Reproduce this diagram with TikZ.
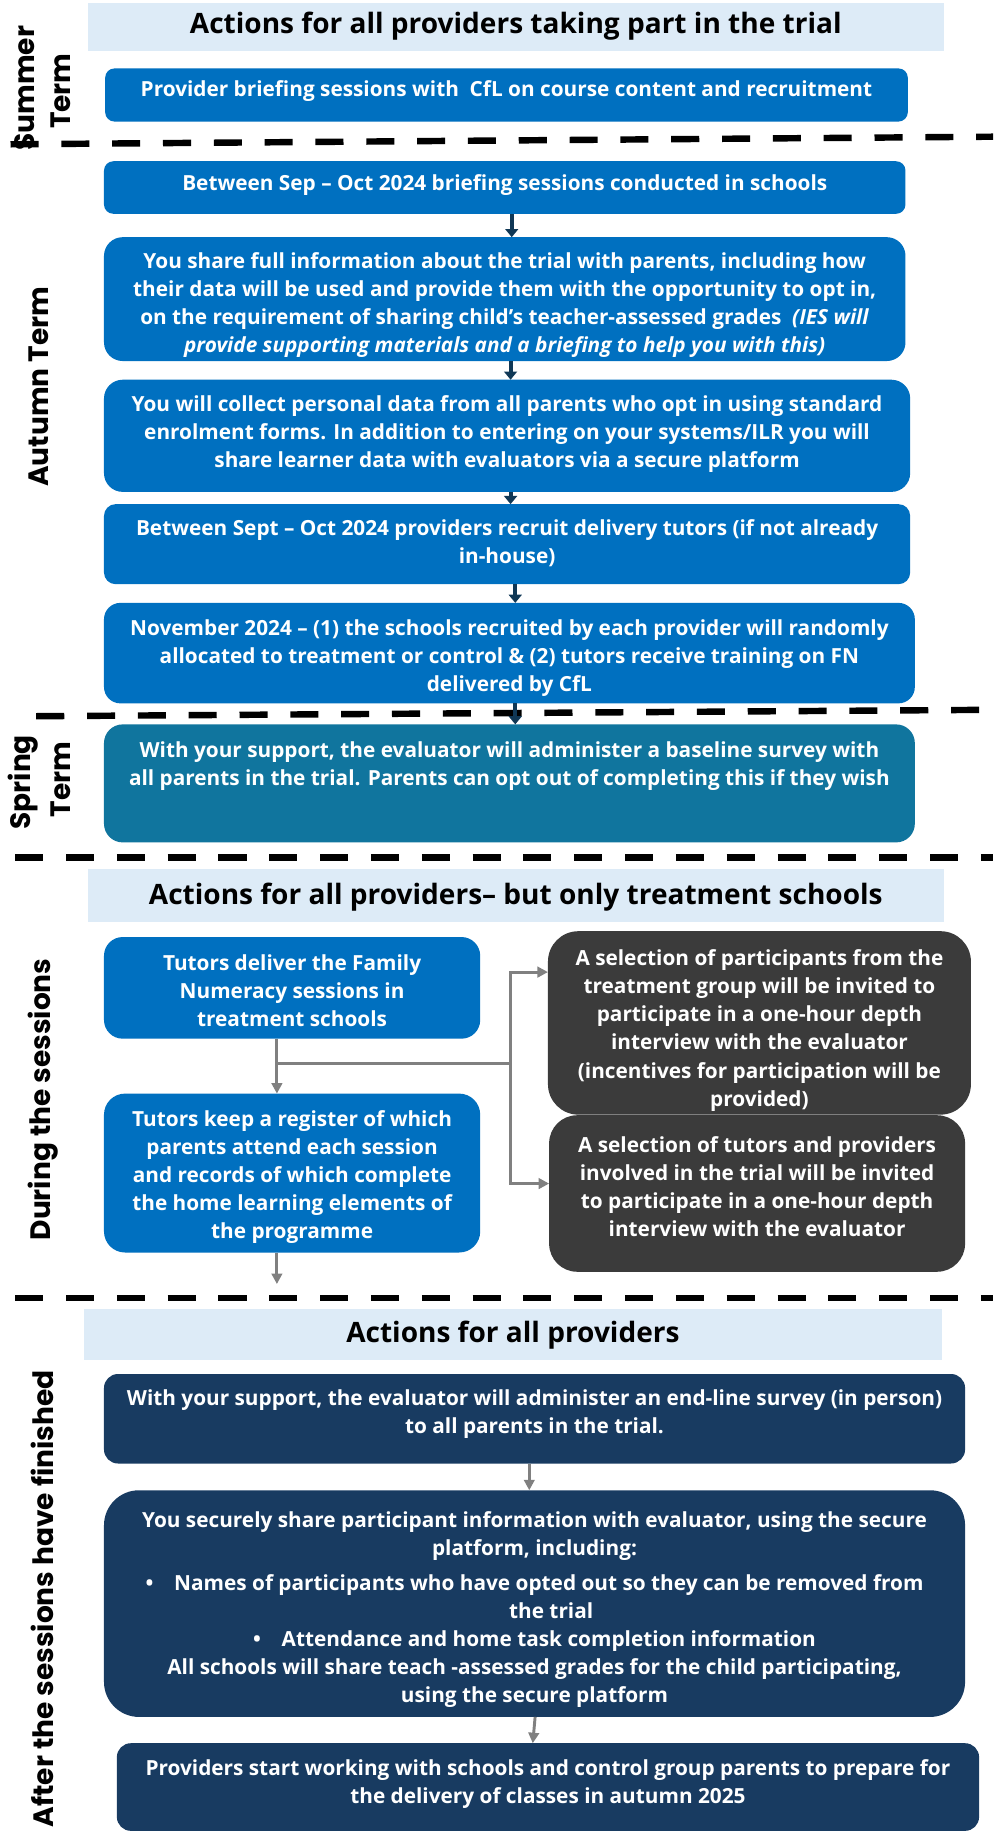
\documentclass[tikz,border=0pt]{standalone}
\usepackage{fontspec}
\setmainfont{Open Sans}
\newfontfamily\lblfont{Poppins}
\usetikzlibrary{arrows.meta,calc}
\definecolor{boxblue}{RGB}{0,112,192}
\definecolor{springteal}{RGB}{16,117,158}
\definecolor{boxgray}{RGB}{59,59,59}
\definecolor{boxnavy}{RGB}{24,59,97}
\definecolor{headblue}{RGB}{221,235,247}
\definecolor{conngray}{RGB}{128,128,128}
\definecolor{arrdark}{RGB}{16,56,86}
\tikzset{
  bx/.style={rectangle, inner sep=0pt, outer sep=0pt, draw=none},
  hd/.style={bx, fill=headblue},
  txt/.style={text=white, font=\fontsize{17.8}{24}\selectfont\bfseries, align=center, inner sep=0pt},
  hdtxt/.style={text=black, font=\fontsize{24}{28}\selectfont\bfseries, align=center, inner sep=0pt},
  lbl/.style={text=black, font=\lblfont\fontsize{24}{28}\selectfont\bfseries, inner sep=0pt, rotate=90},
  divider/.style={line width=5.5pt, dash pattern=on 24pt off 19.5pt, black},
  darr/.style={line width=3.5pt, arrdark, -{Triangle[length=7pt,width=11pt]}},
  garr/.style={line width=2.5pt, conngray, -{Triangle[length=9pt,width=9pt]}},
  gline/.style={line width=2.5pt, conngray},
}
\begin{document}
\begin{tikzpicture}[x=1pt,y=-1pt]
\useasboundingbox (0,0) rectangle (850,1568);
\fill[white] (0,0) rectangle (850,1568);

% ---- section 1 header
\node[hd, minimum width=733pt, minimum height=41pt] (h1) at (441.5,22.9) {};
\node[hdtxt] (h1t) at (441.5,22.8) {Actions for all providers taking part in the trial};

% ---- boxes
\node[bx, fill=boxblue, rounded corners=8pt, minimum width=687pt, minimum height=45.5pt] (summer) at (433.5,81.3) {};
\node[txt] (summert) at (433.5,78) {Provider briefing sessions with\ \ CfL on course content and recruitment};

\node[bx, fill=boxblue, rounded corners=8pt, minimum width=686pt, minimum height=45pt] (A) at (432,160.5) {};
\node[txt] (At) at (432,158.8) {Between Sep -- Oct 2024 briefing sessions conducted in schools};

\node[bx, fill=boxblue, rounded corners=16pt, minimum width=686pt, minimum height=106pt] (B) at (432,256) {};
\node[txt] (Bt) at (432,261) {You share full information about the trial with parents, including how\\their data will be used and provide them with the opportunity to opt in,\\on the requirement of sharing child’s teacher-assessed grades \ \textit{(IES will}\\\textit{provide supporting materials and a briefing to help you with this)}};

\node[bx, fill=boxblue, rounded corners=16pt, minimum width=690pt, minimum height=96pt] (C) at (434,373) {};
\node[txt] (Ct) at (434,371.7) {You will collect personal data from all parents who opt in using standard\\enrolment forms. In addition to entering on your systems/ILR you will\\share learner data with evaluators via a secure platform};

\node[bx, fill=boxblue, rounded corners=10pt, minimum width=690pt, minimum height=68.5pt] (D) at (434,465.75) {};
\node[txt] (Dt) at (434,465) {Between Sept -- Oct 2024 providers recruit delivery tutors (if not already\\in-house)};

\node[bx, fill=boxblue, rounded corners=14pt, minimum width=694pt, minimum height=86pt] (E) at (436,559) {};
\node[txt] (Et) at (436,563) {November 2024 -- (1) the schools recruited by each provider will randomly\\allocated to treatment or control \& (2) tutors receive training on FN\\delivered by CfL};

\node[bx, fill=springteal, rounded corners=16pt, minimum width=694pt, minimum height=101pt] (S) at (436,670.5) {};
\node[txt] (St) at (436,655.3) {With your support, the evaluator will administer a baseline survey with\\all parents in the trial. Parents can opt out of completing this if they wish};

% ---- section 2
\node[hd, minimum width=733pt, minimum height=45pt] (h2) at (441.5,766.5) {};
\node[hdtxt] (h2t) at (441.5,767.6) {Actions for all providers-- but only treatment schools};

\node[bx, fill=boxblue, rounded corners=16pt, minimum width=322pt, minimum height=87pt] (F) at (250,845.5) {};
\node[txt] (Ft) at (250,848) {Tutors deliver the Family\\Numeracy sessions in\\treatment schools};

\node[bx, fill=boxblue, rounded corners=18pt, minimum width=322pt, minimum height=136pt] (G) at (250,1004) {};
\node[txt] (Gt) at (250,1007.6) {Tutors keep a register of which\\parents attend each session\\and records of which complete\\the home learning elements of\\the programme};

\node[bx, fill=boxgray, rounded corners=26pt, minimum width=362pt, minimum height=157pt] (H) at (650,875.5) {};
\node[txt] (Ht) at (650,882) {A selection of participants from the\\treatment group will be invited to\\participate in a one-hour depth\\interview with the evaluator\\(incentives for participation will be\\provided)};

\node[bx, fill=boxgray, rounded corners=24pt, minimum width=356pt, minimum height=134pt] (I) at (648,1021.5) {};
\node[txt] (It) at (648,1015.5) {A selection of tutors and providers\\involved in the trial will be invited\\to participate in a one-hour depth\\interview with the evaluator};

% ---- section 3
\node[hd, minimum width=734pt, minimum height=44pt] (h3) at (439,1142) {};
\node[hdtxt] (h3t) at (439,1142.8) {Actions for all providers};

\node[bx, fill=boxnavy, rounded corners=12pt, minimum width=737pt, minimum height=76.6pt] (J) at (457.5,1214.3) {};
\node[txt] (Jt) at (457.5,1210.5) {With your support, the evaluator will administer an end-line survey (in person)\\to all parents in the trial.};

\node[bx, fill=boxnavy, rounded corners=30pt, minimum width=737pt, minimum height=194pt] (K) at (457.5,1372.5) {};
\node[txt] (Kt) at (457.5,1377.7) {You securely share participant information with evaluator, using the secure\\platform, including:\\[6pt]
\textbullet\quad Names of participants who have opted out so they can be removed from\\\hspace*{1.6em}the trial\\
\textbullet\quad Attendance and home task completion information\\
All schools will share teach -assessed grades for the child participating,\\using the secure platform};

\node[bx, fill=boxnavy, rounded corners=12pt, minimum width=738pt, minimum height=75pt] (L) at (469,1529.5) {};
\node[txt] (Lt) at (469,1527) {Providers start working with schools and control group parents to prepare for\\the delivery of classes in autumn 2025};

% ---- dividers
\coordinate (d1a) at (9,123.5);   \coordinate (d1b) at (850,117);
\coordinate (d2a) at (31,613);    \coordinate (d2b) at (850,607.5);
\coordinate (d3a) at (13,734);    \coordinate (d3b) at (850,734);
\coordinate (d4a) at (13,1111);   \coordinate (d4b) at (850,1111);
\draw[divider] (d1a) -- (d1b);
\draw[divider] (d2a) -- (d2b);
\draw[divider] (d3a) -- (d3b);
\draw[divider] (d4a) -- (d4b);

% ---- top arrows
\draw[darr] ([xshift=6pt]A.south) -- ([xshift=6pt]B.north);
\draw[darr] ([xshift=5pt]B.south) -- ([xshift=3pt]C.north);
\draw[darr] ([xshift=3pt]C.south) -- ([xshift=3pt]D.north);
\draw[darr] ([xshift=7pt]D.south) -- ([xshift=5pt]E.north);
\draw[darr] ([xshift=5pt]E.south) -- ([xshift=5pt]S.north);

% ---- middle connectors
\coordinate (fg) at ([xshift=-13pt]F.south);
\coordinate (j) at (437,910);
\draw[garr] (fg) -- (fg |- G.north);
\draw[gline] (fg |- j) -- (j);
\draw[garr] (j) |- ([yshift=43.5pt]H.west);
\draw[garr] (j) |- ([yshift=8.5pt]I.west);
\coordinate (gend) at (237,1099);
\draw[garr] ([xshift=-13pt]G.south) -- (gend);

% ---- bottom connectors
\draw[garr] ([xshift=-4.5pt]J.south) -- ([xshift=-4.5pt]K.north);
\draw[garr] ([xshift=0.5pt]K.south) -- ([xshift=-13pt]L.north);

% ---- side labels
\node[lbl] (lsum1) at (21,75.5) {Summer};
\node[lbl] (lsum2) at (52,78) {Term};
\node[lbl] (laut) at (33.5,331) {Autumn Term};
\node[lbl] (lspr1) at (20,669.5) {Spring};
\node[lbl] (lspr2) at (52,667) {Term};
\node[lbl] (ldur) at (37,941) {During the sessions};
\node[lbl] (laft) at (36,1368.5) {After the sessions have finished};
\end{tikzpicture}
\end{document}
